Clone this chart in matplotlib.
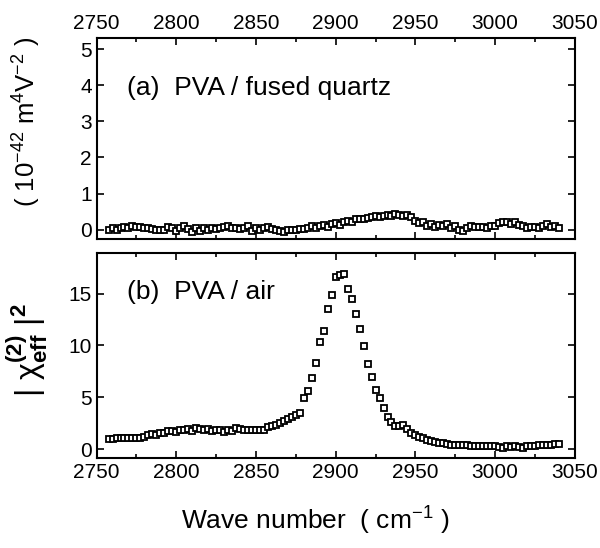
import numpy as np
import matplotlib
matplotlib.use("Agg")
import matplotlib.pyplot as plt
from matplotlib.ticker import MultipleLocator

plt.rcParams['font.family'] = ['Liberation Sans', 'DejaVu Sans']
plt.rcParams['mathtext.fontset'] = 'custom'
plt.rcParams['mathtext.rm'] = 'Liberation Sans'
plt.rcParams['mathtext.it'] = 'Liberation Sans'
plt.rcParams['mathtext.bf'] = 'Liberation Sans:bold'

wavenumber = [
    2757.5, 2760, 2762.5, 2765, 2767.5, 2770, 2772.5, 2775, 2777.5, 2780,
    2782.5, 2785, 2787.5, 2790, 2792.5, 2795, 2797.5, 2800, 2802.5, 2805,
    2807.5, 2810, 2812.5, 2815, 2817.5, 2820, 2822.5, 2825, 2827.5, 2830,
    2832.5, 2835, 2837.5, 2840, 2842.5, 2845, 2847.5, 2850, 2852.5, 2855,
    2857.5, 2860, 2862.5, 2865, 2867.5, 2870, 2872.5, 2875, 2877.5, 2880,
    2882.5, 2885, 2887.5, 2890, 2892.5, 2895, 2897.5, 2900, 2902.5, 2905,
    2907.5, 2910, 2912.5, 2915, 2917.5, 2920, 2922.5, 2925, 2927.5, 2930,
    2932.5, 2935, 2937.5, 2940, 2942.5, 2945, 2947.5, 2950, 2952.5, 2955,
    2957.5, 2960, 2962.5, 2965, 2967.5, 2970, 2972.5, 2975, 2977.5, 2980,
    2982.5, 2985, 2987.5, 2990, 2992.5, 2995, 2997.5, 3000, 3002.5, 3005,
    3007.5, 3010, 3012.5, 3015, 3017.5, 3020, 3022.5, 3025, 3027.5, 3030,
    3032.5, 3035, 3037.5, 3040,
]

fused_quartz = [
    0.00, 0.05, -0.02, 0.05, 0.08, 0.05, 0.10, 0.08, 0.08, 0.05,
    0.05, 0.02, 0.00, -0.02, 0.00, 0.08, 0.05, -0.05, 0.05, 0.10,
    0.02, -0.08, 0.05, -0.05, 0.05, 0.00, 0.05, 0.02, 0.05, 0.08,
    0.10, 0.05, 0.05, 0.02, 0.05, 0.10, -0.05, 0.05, 0.00, 0.05,
    0.08, 0.02, 0.00, -0.05, -0.08, -0.02, -0.02, 0.00, 0.02, 0.02,
    0.05, 0.10, 0.05, 0.10, 0.12, 0.08, 0.15, 0.18, 0.12, 0.20,
    0.25, 0.22, 0.28, 0.30, 0.30, 0.32, 0.35, 0.38, 0.35, 0.38,
    0.40, 0.38, 0.42, 0.40, 0.38, 0.40, 0.35, 0.25, 0.18, 0.22,
    0.10, 0.15, 0.08, 0.12, 0.10, 0.15, 0.05, 0.10, 0.00, -0.05,
    0.05, 0.10, 0.08, 0.08, 0.08, 0.05, 0.10, 0.10, 0.18, 0.20,
    0.22, 0.15, 0.20, 0.12, 0.10, 0.05, 0.08, 0.08, 0.05, 0.10,
    0.15, 0.08, 0.10, 0.05,
]

air = [
    1.00, 0.95, 1.05, 1.10, 1.05, 1.10, 1.10, 1.05, 1.10, 1.15,
    1.35, 1.45, 1.40, 1.60, 1.55, 1.75, 1.80, 1.70, 1.90, 1.85,
    1.95, 1.80, 2.00, 1.95, 1.90, 1.95, 1.75, 1.85, 1.90, 1.70,
    1.85, 1.80, 2.00, 1.95, 1.85, 1.85, 1.85, 1.85, 1.90, 1.90,
    2.10, 2.20, 2.30, 2.50, 2.70, 2.90, 3.10, 3.30, 3.50, 4.90,
    5.60, 6.90, 8.30, 10.30, 11.40, 13.50, 14.90, 16.60, 16.80, 16.90,
    15.40, 14.50, 13.00, 11.60, 9.90, 8.20, 7.00, 5.70, 4.90, 4.00,
    3.10, 2.60, 2.20, 2.20, 2.30, 1.95, 1.60, 1.40, 1.20, 1.05,
    0.90, 0.80, 0.70, 0.65, 0.60, 0.55, 0.45, 0.42, 0.40, 0.40,
    0.38, 0.35, 0.35, 0.33, 0.32, 0.30, 0.32, 0.30, 0.25, 0.15,
    0.30, 0.25, 0.30, 0.25, 0.10, 0.30, 0.30, 0.35, 0.38, 0.40,
    0.42, 0.45, 0.50, 0.48,
]

x_ticks = [2750, 2800, 2850, 2900, 2950, 3000, 3050]
top_yticks = [0, 1, 2, 3, 4, 5]
bottom_yticks = [0, 5, 10, 15]

fig = plt.figure(figsize=(6.0, 5.48), dpi=100)
ax1 = fig.add_axes([0.161, 0.5639, 0.797, 0.3668])
ax2 = fig.add_axes([0.161, 0.1637, 0.797, 0.3746])

mk = dict(linestyle='none', marker='s', markersize=5, markerfacecolor='white',
          markeredgecolor='black', markeredgewidth=1.3)
ax1.plot(wavenumber, fused_quartz, **mk)
ax2.plot(wavenumber, air, **mk)

for ax in (ax1, ax2):
    ax.set_xlim(2750, 3050)
    ax.set_xticks(x_ticks)
    ax.xaxis.set_minor_locator(MultipleLocator(25))
    ax.tick_params(which='both', direction='in', top=True, right=True,
                   width=1.2, labelsize=15)
    ax.tick_params(which='major', length=5)
    ax.tick_params(which='minor', length=3)
    for s in ax.spines.values():
        s.set_linewidth(1.5)

ax1.set_ylim(-0.26, 5.31)
ax1.set_yticks(top_yticks)
ax1.tick_params(axis='x', labeltop=True, labelbottom=False)
ax2.set_ylim(-0.87, 18.9)
ax2.set_yticks(bottom_yticks)

ax1.text(0.063, 0.75, '(a)  PVA / fused quartz', transform=ax1.transAxes,
         fontsize=19, va='center', ha='left')
ax2.text(0.063, 0.81, '(b)  PVA / air', transform=ax2.transAxes,
         fontsize=19, va='center', ha='left')

fig.text(0.525, 0.05, r'Wave number  ( cm$^{-1}$ )', fontsize=19,
         ha='center', va='center')
fig.text(0.045, 0.777, r'( 10$^{-42}$ m$^{4}$V$^{-2}$ )',
         fontsize=18.5, rotation=90, ha='center', va='center')
fig.text(0.045, 0.361,
         r'$|\ \mathrm{χ}^{\mathbf{(2)}}_{\mathbf{eff}}\ |^{\mathbf{2}}$',
         fontsize=23, rotation=90, ha='center', va='center')

fig.savefig('out.png', dpi=100)
